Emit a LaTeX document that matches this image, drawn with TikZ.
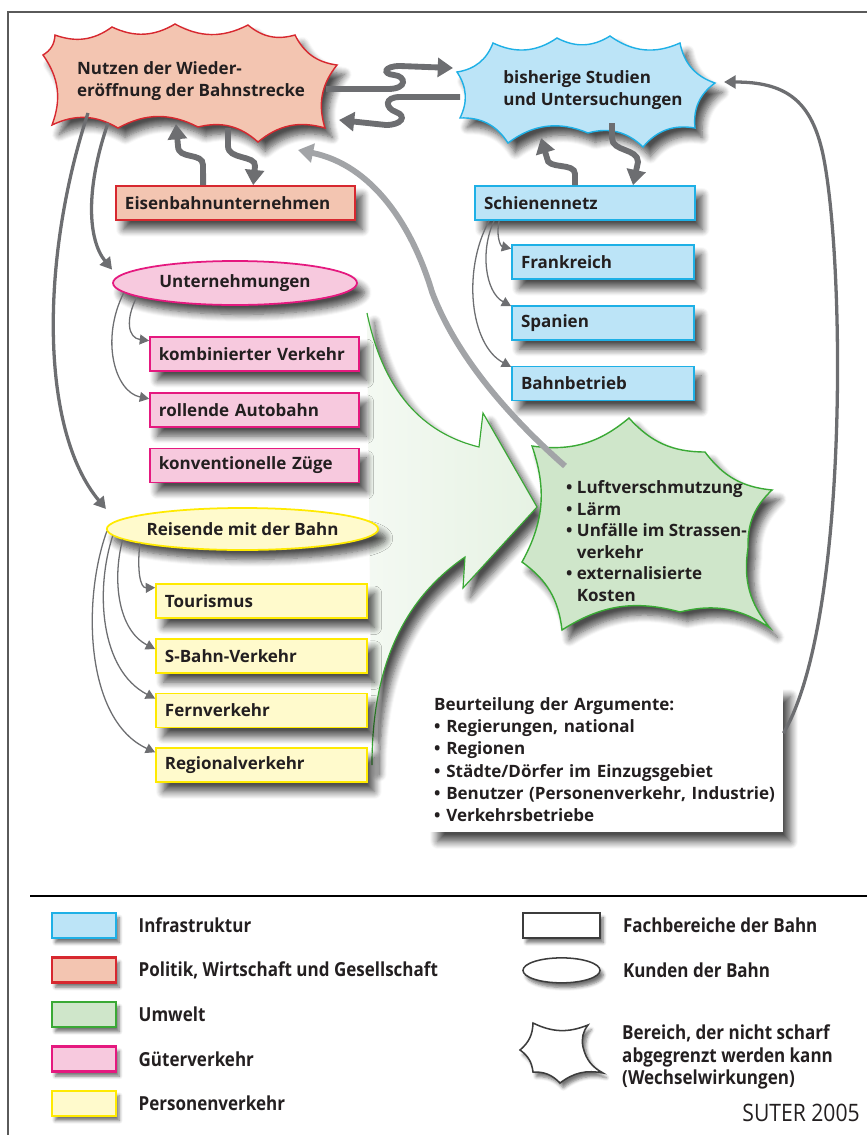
\documentclass[tikz,border=0pt]{standalone}
\usepackage{fontspec}
\setmainfont{Open Sans}
\newfontfamily\legendfont[FakeStretch=0.88]{Open Sans}
\usetikzlibrary{positioning, arrows.meta, shapes.geometric, shadows.blur}
\definecolor{clrinfra}{HTML}{BCE4F7}
\definecolor{clrinfra_frame}{HTML}{1EB0E6}
\definecolor{clrpolitik}{HTML}{F3C5B1}
\definecolor{clrpolitik_frame}{HTML}{D7282F}
\definecolor{clrumwelt}{HTML}{CFE6CA}
\definecolor{clrumwelt_light}{HTML}{E6F2E3}
\definecolor{clrumwelt_frame}{HTML}{3AA935}
\definecolor{clrgueter}{HTML}{F7C9DE}
\definecolor{clrgueter_frame}{HTML}{E5197F}
\definecolor{clrperson}{HTML}{FFFACC}
\definecolor{clrperson_frame}{HTML}{FFEA00}
\definecolor{clrarrow}{HTML}{6D6E71}
\definecolor{clrarrow_light}{HTML}{A2A4A7}
\definecolor{clrborder}{HTML}{3C3C3C}
\definecolor{clrframe}{HTML}{5A5A5A}
\definecolor{clrtext}{HTML}{231F20}
\newcommand{\boxfont}{\fontsize{14.5}{19}\selectfont\bfseries}

\begin{document}
\begin{tikzpicture}[
    x=0.03cm, y=-0.03cm,
    every node/.style={text=clrtext},
    dropshade/.style={blur shadow={shadow xshift=0.22cm, shadow yshift=-0.28cm, shadow blur radius=0.22cm, shadow blur steps=8, shadow opacity=70}},
    smallshade/.style={blur shadow={shadow xshift=0.1cm, shadow yshift=-0.14cm, shadow blur radius=0.1cm, shadow blur steps=5, shadow opacity=55}},
    block/.style={rectangle, line width=1.5pt, minimum height=1.02cm, inner xsep=0.27cm, inner ysep=0pt, align=left, font=\boxfont, dropshade},
    infrablock/.style={block, draw=clrinfra_frame, fill=clrinfra},
    politikblock/.style={block, draw=clrpolitik_frame, fill=clrpolitik},
    gueterblock/.style={block, draw=clrgueter_frame, fill=clrgueter, text width=5.73cm},
    personblock/.style={block, draw=clrperson_frame, fill=clrperson, text width=5.79cm},
    kunde/.style={ellipse, line width=1.5pt, inner sep=0pt, font=\boxfont, dropshade},
    burst/.style={line width=1.2pt, dropshade},
    wavearrow/.style={draw=clrarrow, line width=5pt, -{Triangle[length=13pt, width=16pt]}},
    linkarrow/.style={draw=clrarrow, line width=2.8pt, -{Triangle[length=10pt, width=11pt]}},
    thinarrow/.style={draw=clrarrow, line width=1.1pt, -{Triangle[length=8pt, width=8.5pt]}},
    legbox/.style={rectangle, line width=2.4pt, minimum width=1.92cm, minimum height=0.75cm, smallshade},
    legshape/.style={draw=clrborder, fill=white, line width=1.3pt, inner sep=0pt, minimum width=2.31cm, minimum height=0.75cm, smallshade},
    leglabel/.style={font=\legendfont\fontsize{16.5}{19}\selectfont\bfseries, inner xsep=0pt, anchor=west, align=left},
]
\useasboundingbox (0,0) rectangle (867,1135);
\draw[clrframe, line width=1.5pt] (8,1135) -- (8,12) -- (867,12);

% big green arrow
\shade[dropshade, left color=clrumwelt_light!45, right color=clrumwelt_light] (367,313) .. controls (385,400) and (430,435) .. (479,447) -- (483,413) -- (537,507) -- (463,588) -- (465,557) .. controls (395,605) and (372,680) .. (372,765) -- cycle;
\draw[clrumwelt_frame, line width=1pt] (367,313) .. controls (385,400) and (430,435) .. (479,447) -- (483,413) -- (537,507) -- (463,588) -- (465,557) .. controls (395,605) and (372,680) .. (372,765);

% bursts
\filldraw[burst, draw=clrpolitik_frame, fill=clrpolitik] (43,55) \foreach \x/\y in {55/35, 112/27, 175/24, 248/25, 295/35, 337/65, 325/128, 258/142, 198/127, 118/128, 52/125, 43/55} { to[bend right=28] (\x,\y) } -- cycle;
\node[font=\boxfont, align=left] (n_1) at (191,81) {Nutzen der Wieder-\\eröffnung der Bahnstrecke};
\filldraw[burst, draw=clrinfra_frame, fill=clrinfra] (457,72) \foreach \x/\y in {493/43, 557/38, 610/36, 680/43, 715/83, 695/128, 643/147, 588/133, 508/143, 460/118, 457/72} { to[bend right=30] (\x,\y) } -- cycle;
\node[font=\boxfont, align=left] (n_2) at (593,90) {bisherige Studien\\und Untersuchungen};
\filldraw[burst, draw=clrumwelt_frame, fill=clrumwelt] (532,446) \foreach \x/\y in {629/418, 705/452, 772/490, 748/548, 770/628, 680/612, 562/630, 522/562, 532/446} { to[bend right=24] (\x,\y) } -- cycle;
\node[font=\fontsize{14.5}{18.4}\selectfont\bfseries, align=left, anchor=west] (n_17) at (562,541) {\textbullet\ Luftverschmutzung\\\textbullet\ Lärm\\\textbullet\ Unfälle im Strassen-\\\phantom{\textbullet\ }verkehr\\\textbullet\ externalisierte\\\phantom{\textbullet\ }Kosten};

% boxes
\node[politikblock, text width=6.63cm] (n_3) at (235.5,203) {Eisenbahnunternehmen};
\node[infrablock, text width=6.06cm] (n_4) at (585,203) {Schienennetz};
\node[infrablock, text width=4.92cm] (n_5) at (603,262) {Frankreich};
\node[infrablock, text width=4.92cm, below=0.75cm of n_5] (n_6) {Spanien};
\node[infrablock, text width=4.92cm, below=0.75cm of n_6] (n_7) {Bahnbetrieb};
\node[kunde, draw=clrgueter_frame, fill=clrgueter, minimum width=7.32cm, minimum height=1.32cm] (n_8) at (235,283) {Unternehmungen};
\node[gueterblock] (n_9) at (254.5,354) {kombinierter Verkehr};
\node[gueterblock, below=0.6cm of n_9] (n_10) {rollende Autobahn};
\node[gueterblock, below=0.6cm of n_10] (n_11) {konventionelle Züge};
\node[kunde, draw=clrperson_frame, fill=clrperson, minimum width=7.35cm, minimum height=1.26cm] (n_12) at (242.5,529) {Reisende mit der Bahn};
\node[personblock] (n_13) at (261.5,601) {Tourismus};
\node[personblock, below=0.57cm of n_13] (n_14) {S-Bahn-Verkehr};
\node[personblock, below=0.57cm of n_14] (n_15) {Fernverkehr};
\node[personblock, below=0.57cm of n_15] (n_16) {Regionalverkehr};
\node[fill=white, dropshade, font=\boxfont, align=left, text width=10.35cm, inner xsep=0.12cm, minimum height=4.35cm, anchor=north west] (n_18) at (430,687) {Beurteilung der Argumente:\\\textbullet\ Regierungen, national\\\textbullet\ Regionen\\\textbullet\ Städte/Dörfer im Einzugsgebiet\\\textbullet\ Benutzer (Personenverkehr, Industrie)\\\textbullet\ Verkehrsbetriebe};

% connectors
\coordinate (p_1) at (326,89);
\coordinate (p_2) at (453,68);
\coordinate (p_3) at (460,97);
\coordinate (p_4) at (339,120);
\coordinate (p_5) at (176,124);
\coordinate (p_6) at (228,128);
\coordinate (p_7) at (541,138);
\coordinate (p_8) at (612,123);
\coordinate (p_9) at (724,82);
\coordinate (p_10) at (565,466);
\coordinate (p_11) at (298,150);
\coordinate (p_12) at (88,113);
\coordinate (p_13) at (108,123);
\draw[wavearrow] (p_1) -- (388,89) .. controls (408,89) and (406,76) .. (394,75) .. controls (382,74) and (384,66) .. (400,66) -- (p_2);
\draw[wavearrow] (p_3) -- (400,97) .. controls (384,97) and (385,108) .. (396,112) .. controls (407,116) and (402,125) .. (386,125) -- (p_4);
\draw[wavearrow] ([xshift=-0.97cm]n_3.north) -- (203,165) .. controls (203,152) and (178,160) .. (178,146) -- (p_5);
\draw[wavearrow] (p_6) -- (228,146) .. controls (228,160) and (256,155) .. (255,166) -- ([xshift=0.53cm]n_3.north);
\draw[wavearrow] ([xshift=-0.3cm]n_4.north) -- (575,174) .. controls (575,162) and (547,170) .. (547,158) -- (p_7);
\draw[wavearrow] (p_8) -- (612,138) .. controls (612,152) and (638,148) .. (638,162) -- ([xshift=1.44cm]n_4.north);
\draw[wavearrow, draw=clrarrow_light] (p_10) .. controls (490,400) and (450,340) .. (432,292) .. controls (412,225) and (372,165) .. (p_11);
\draw[linkarrow] ([yshift=0.8cm]n_18.east) .. controls (850,620) and (845,250) .. (822,150) .. controls (810,100) and (785,82) .. (p_9);
\draw[linkarrow] (p_12) .. controls (40,260) and (40,430) .. ([yshift=0.6cm]n_12.west);
\draw[linkarrow] (p_13) .. controls (85,190) and (88,240) .. ([yshift=0.4cm]n_8.west);
\draw[thinarrow] (n_8.188) .. controls (125,320) and (128,338) .. ([yshift=0.4cm]n_9.west);
\draw[thinarrow] (n_8.185) .. controls (100,340) and (115,392) .. ([yshift=0.33cm]n_10.west);
\draw[thinarrow] ([xshift=0.75cm]n_4.south west) .. controls (496,235) and (500,246) .. ([yshift=0.4cm]n_5.west);
\draw[thinarrow] ([xshift=0.6cm]n_4.south west) .. controls (480,250) and (485,292) .. ([yshift=0.5cm]n_6.west);
\draw[thinarrow] ([xshift=0.45cm]n_4.south west) .. controls (462,270) and (470,345) .. ([yshift=0.5cm]n_7.west);
\draw[thinarrow] (n_12.188) .. controls (137,570) and (140,588) .. ([yshift=0.4cm]n_13.west);
\draw[thinarrow] (n_12.185) .. controls (112,580) and (118,630) .. ([yshift=0.2cm]n_14.west);
\draw[thinarrow] (n_12.183) .. controls (95,590) and (100,670) .. ([yshift=0.36cm]n_15.west);
\draw[thinarrow] (n_12.181) .. controls (82,600) and (85,720) .. ([yshift=0.39cm]n_16.west);

% legend
\draw[black, line width=1.8pt] (30,896) -- (867,896);
\node[legbox, draw=clrinfra_frame, fill=clrinfra] (lg_1) at (84,925.5) {};
\node[legbox, draw=clrpolitik_frame, fill=clrpolitik, below=0.5cm of lg_1] (lg_2) {};
\node[legbox, draw=clrumwelt_frame, fill=clrumwelt, below=0.5cm of lg_2] (lg_3) {};
\node[legbox, draw=clrgueter_frame, fill=clrgueter, below=0.5cm of lg_3] (lg_4) {};
\node[legbox, draw=clrperson_frame, fill=clrperson, below=0.5cm of lg_4] (lg_5) {};
\node[leglabel, right=0.63cm of lg_1] (lg_1_text) {Infrastruktur};
\node[leglabel, right=0.63cm of lg_2] (lg_2_text) {Politik, Wirtschaft und Gesellschaft};
\node[leglabel, right=0.63cm of lg_3] (lg_3_text) {Umwelt};
\node[leglabel, right=0.63cm of lg_4] (lg_4_text) {Güterverkehr};
\node[leglabel, right=0.63cm of lg_5] (lg_5_text) {Personenverkehr};
\node[legshape, rectangle] (lg_6) at (561.5,925.5) {};
\node[legshape, ellipse, below=0.55cm of lg_6] (lg_7) {};
\node[leglabel, right=0.66cm of lg_6] (lg_6_text) {Fachbereiche der Bahn};
\node[leglabel, right=0.66cm of lg_7] (lg_7_text) {Kunden der Bahn};
\filldraw[draw=clrborder, fill=white, line width=1.3pt, smallshade] (533,1023) \foreach \x/\y in {588/1025, 583/1047, 603/1073, 560/1083, 533/1072, 520/1050, 533/1023} { to[bend right=24] (\x,\y) } -- cycle;
\node[leglabel] (lg_8_text) at (622,1057) {Bereich, der nicht scharf\\abgegrenzt werden kann\\(Wechselwirkungen)};
\node[font=\legendfont\fontsize{20.5}{24}\selectfont, anchor=east, inner sep=0pt] (lg_9) at (860,1113) {SUTER 2005};
\end{tikzpicture}
\end{document}
